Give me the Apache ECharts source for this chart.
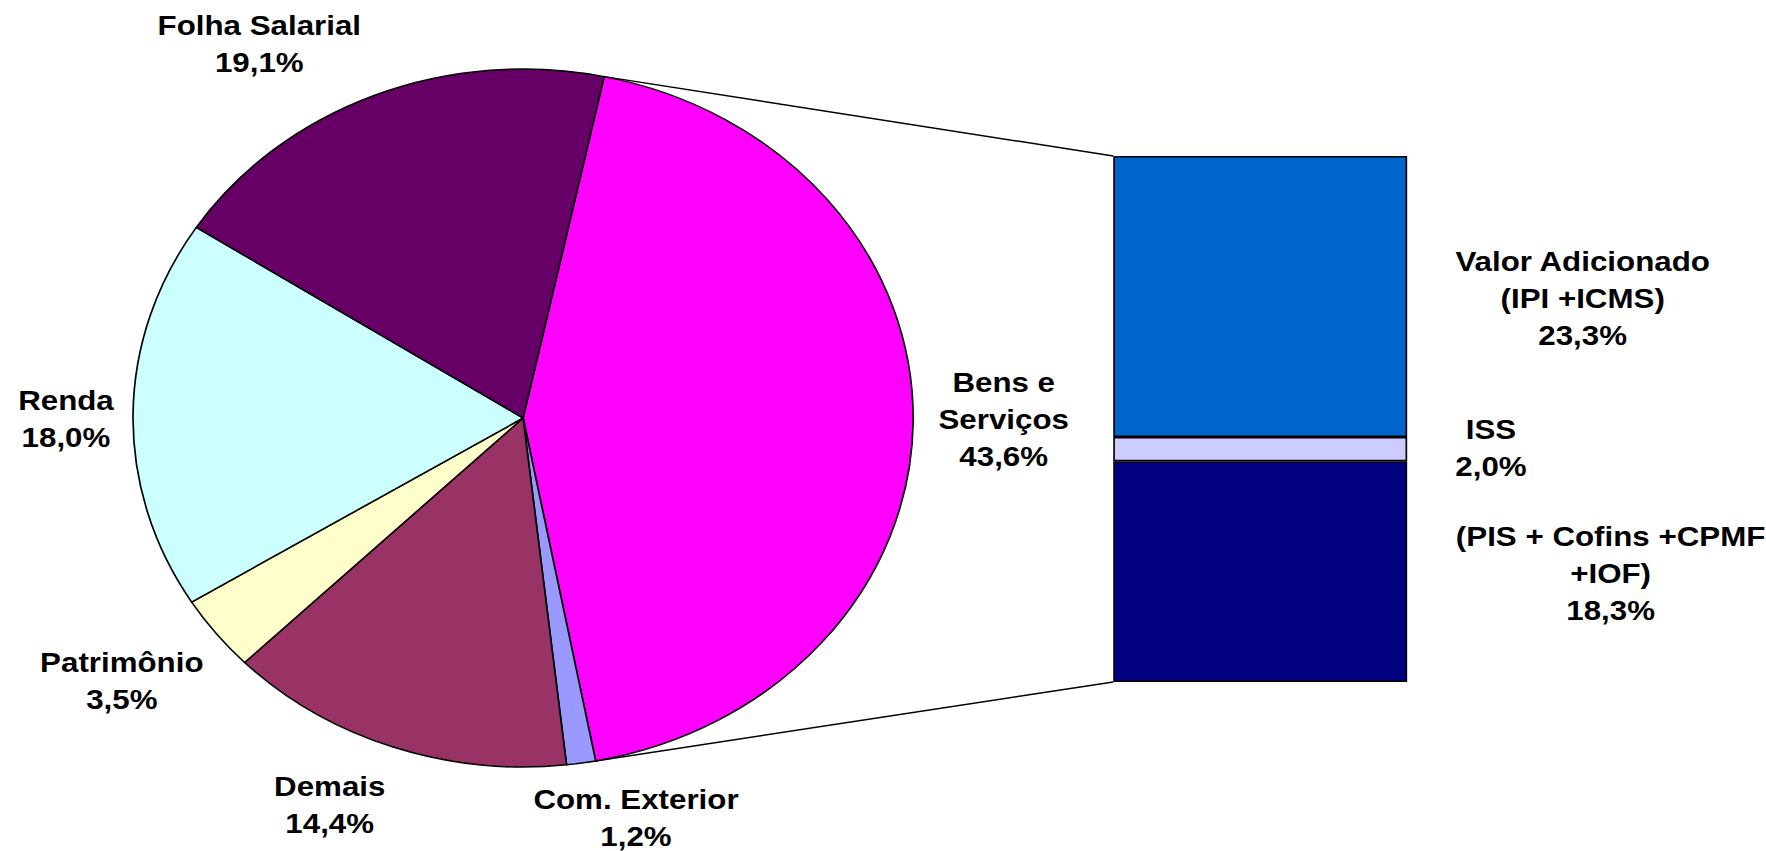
<!DOCTYPE html>
<html>
<head>
<meta charset="utf-8">
<script src="https://cdn.jsdelivr.net/npm/echarts@6/dist/echarts.min.js"></script>
<style>
html, body { margin: 0; padding: 0; background: #fff; overflow: hidden; }
/* o gráfico original está esticado na horizontal (pizza elíptica) */
#main { width: 1580px; height: 851px; transform: scaleX(1.1177); transform-origin: 0 0; }
</style>
</head>
<body>
<div id="main"></div>
<script>
// composição da arrecadação
const pieNames = ['Bens e\nServiços', 'Com. Exterior', 'Demais', 'Patrimônio', 'Renda', 'Folha Salarial'];
const pieValues = [43.6, 1.2, 14.4, 3.5, 18.0, 19.1];
const pieColors = ['#FF00FF', '#9999FF', '#993366', '#FFFFCC', '#CCFFFF', '#660066'];

// detalhamento de Bens e Serviços (de baixo para cima)
const barNames = ['(PIS + Cofins +CPMF\n+IOF)', 'ISS', 'Valor Adicionado\n(IPI +ICMS)'];
const barValues = [18.3, 2.0, 23.3];
const barColors = ['#000080', '#CCCCFF', '#0066CC'];

// posições dos rótulos
const pieLabelPos = [[898, 419], [569, 818], [295, 805], [109, 681], [59, 419], [232, 44]];
const barLabelPos = [[1441, 573], [1334, 448], [1416, 298]];

const pieCenter = [468, 418];
const pieRadius = 349;
const startAngle = 78;
const box = { left: 996, top: 156, width: 263, height: 526 };

const fmt = v => v.toFixed(1).replace('.', ',') + '%';
const textStyle = {
    fontSize: 28,
    fontWeight: 'bold',
    fontFamily: '"Liberation Sans", Arial, sans-serif',
    color: '#000',
    lineHeight: 37,
    align: 'center'
};

const barTotal = barValues.reduce((a, b) => a + b, 0);
const pieTotal = pieValues.reduce((a, b) => a + b, 0);

let myChart = echarts.init(document.getElementById('main'), null, { renderer: 'svg' });

// linhas que ligam a fatia de Bens e Serviços à barra
const a0 = startAngle * Math.PI / 180;
const a1 = (startAngle - pieValues[0] / pieTotal * 360) * Math.PI / 180;
const p0 = [pieCenter[0] + pieRadius * Math.cos(a0), pieCenter[1] - pieRadius * Math.sin(a0)];
const p1 = [pieCenter[0] + pieRadius * Math.cos(a1), pieCenter[1] - pieRadius * Math.sin(a1)];

let option = {
    animation: false,
    backgroundColor: '#fff',
    grid: { left: box.left, top: box.top, width: box.width, height: box.height },
    xAxis: { type: 'category', data: ['Bens e Serviços'], show: false },
    yAxis: { type: 'value', min: 0, max: barTotal, show: false },
    graphic: [
        { type: 'line', shape: { x1: p0[0], y1: p0[1], x2: box.left, y2: box.top },
          style: { stroke: '#000', lineWidth: 1.5 } },
        { type: 'line', shape: { x1: p1[0], y1: p1[1], x2: box.left, y2: box.top + box.height },
          style: { stroke: '#000', lineWidth: 1.5 } }
    ],
    series: [
        {
            type: 'pie',
            center: pieCenter,
            radius: pieRadius,
            startAngle: startAngle,
            clockwise: true,
            avoidLabelOverlap: false,
            data: pieNames.map((n, i) => ({ name: n, value: pieValues[i], itemStyle: { color: pieColors[i] } })),
            itemStyle: { borderColor: '#000', borderWidth: 1.5 },
            label: Object.assign({ show: true, position: 'outside', formatter: p => p.name + '\n' + fmt(p.value) }, textStyle),
            labelLine: { show: false },
            labelLayout: p => ({ x: pieLabelPos[p.dataIndex][0], y: pieLabelPos[p.dataIndex][1], align: 'center', verticalAlign: 'middle' }),
            emphasis: { disabled: true }
        }
    ].concat(barNames.map((n, i) => ({
        type: 'bar',
        name: n,
        stack: 'bens',
        barWidth: '100%',
        data: [barValues[i]],
        itemStyle: { color: barColors[i], borderColor: '#000', borderWidth: 1.5 },
        label: Object.assign({ show: true, formatter: () => n + '\n' + fmt(barValues[i]) }, textStyle),
        labelLayout: () => ({ x: barLabelPos[i][0], y: barLabelPos[i][1], align: 'center', verticalAlign: 'middle' }),
        emphasis: { disabled: true }
    })))
};
myChart.setOption(option);
</script>
</body>
</html>
